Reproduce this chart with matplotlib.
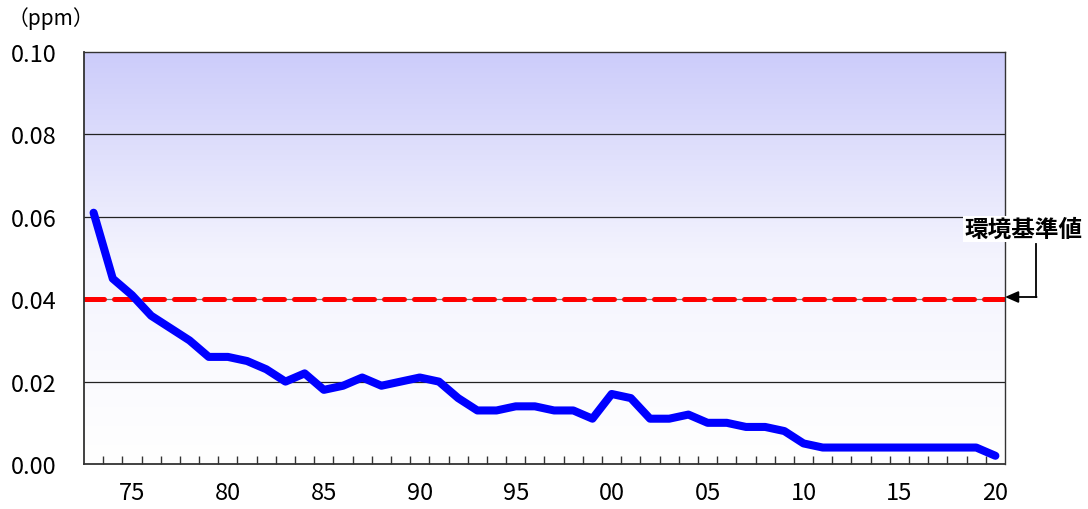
import numpy as np
import matplotlib
matplotlib.use("Agg")
import matplotlib.pyplot as plt
from matplotlib.colors import LinearSegmentedColormap

plt.rcParams["font.family"] = ["Noto Sans CJK JP", "DejaVu Sans"]

years = list(range(1973, 2021))
conc = [0.061, 0.045, 0.041, 0.036, 0.033, 0.030, 0.026, 0.026, 0.025, 0.023,
        0.020, 0.022, 0.018, 0.019, 0.021, 0.019, 0.020, 0.021, 0.020, 0.016,
        0.013, 0.013, 0.014, 0.014, 0.013, 0.013, 0.011, 0.017, 0.016, 0.011,
        0.011, 0.012, 0.010, 0.010, 0.009, 0.009, 0.008, 0.005, 0.004, 0.004,
        0.004, 0.004, 0.004, 0.004, 0.004, 0.004, 0.004, 0.002]
standard = 0.04
label_years = [1975, 1980, 1985, 1990, 1995, 2000, 2005, 2010, 2015, 2020]
label_text = ["75", "80", "85", "90", "95", "00", "05", "10", "15", "20"]
y_ticks = [0.00, 0.02, 0.04, 0.06, 0.08, 0.10]

fig = plt.figure(figsize=(10.88, 5.10), dpi=100)
ax = fig.add_axes([0.0772, 0.0882, 0.8465, 0.8078])

x0, x1 = years[0] - 0.5, years[-1] + 0.5
ax.set_xlim(x0, x1)
ax.set_ylim(0, 0.10)

# gradient background (lavender top -> white bottom)
cmap = LinearSegmentedColormap.from_list("bg", ["#FFFFFF", "#F4F4FE", "#CCCCFA"])
grad = np.linspace(0, 1, 256).reshape(-1, 1)
ax.imshow(grad, cmap=cmap, aspect="auto", extent=[x0, x1, 0, 0.10],
          origin="lower", zorder=0)

for yv in y_ticks[1:-1]:
    ax.axhline(yv, color="#222222" if yv != standard else "#777777", lw=0.9, zorder=1)

ax.axhline(standard, color="#FF0000", lw=3.6, dashes=(4.0, 2.0),
           dash_capstyle="round", zorder=2)
ax.plot(years, conc, color="#0000FF", lw=5.8, solid_capstyle="round",
        solid_joinstyle="round", zorder=3)

ax.set_yticks(y_ticks)
ax.set_yticklabels([f"{v:.2f}" for v in y_ticks], fontsize=17)
ax.tick_params(axis="y", length=0, pad=20)
ax.set_xticks(label_years)
ax.set_xticklabels(label_text, fontsize=17)
ax.tick_params(axis="x", which="major", length=0, pad=12)
ax.set_xticks(np.arange(x0 + 1, x1, 1), minor=True)
ax.tick_params(axis="x", which="minor", direction="in", length=6, width=1,
               color="#333333")
for sp in ax.spines.values():
    sp.set_color("#333333")
    sp.set_linewidth(1.0)
ax.spines["left"].set_linewidth(1.3)
ax.spines["bottom"].set_linewidth(1.3)

fig.text(8 / 1088, 1 - 19 / 510, "（ppm）", fontsize=15, va="center", ha="left")

# annotation for the environmental standard
fig.text(964 / 1088, 1 - 230 / 510, "環境基準値", fontsize=17, fontweight="bold",
         va="center", ha="left",
         bbox=dict(facecolor="white", edgecolor="none", pad=1))
fig.add_artist(plt.Line2D([1036 / 1088, 1036 / 1088],
                          [1 - 245 / 510, 1 - 298 / 510], color="black", lw=1.3))
ax.annotate("", xy=(1005 / 1088, 1 - 298 / 510), xycoords="figure fraction",
            xytext=(1036.6 / 1088, 1 - 298 / 510), textcoords="figure fraction",
            arrowprops=dict(arrowstyle="-|>,head_length=0.8,head_width=0.35",
                            color="black", lw=1.3, shrinkA=0, shrinkB=0),
            annotation_clip=False)

fig.savefig("out.png", dpi=100)
